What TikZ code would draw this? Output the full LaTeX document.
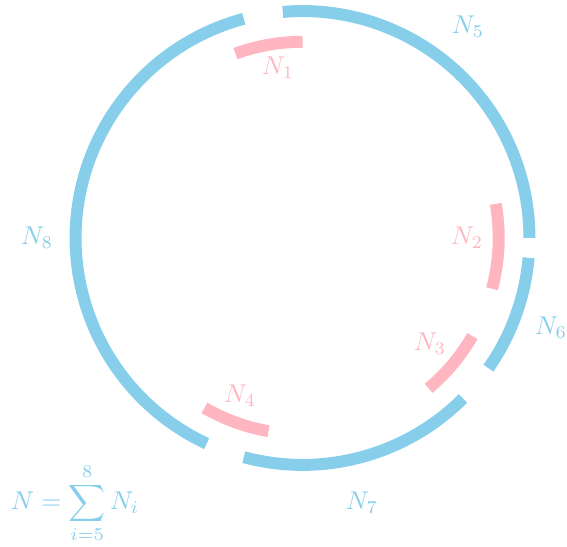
\documentclass[tikz,border=0pt]{standalone}
\usepackage{amsmath}
\usetikzlibrary{positioning}
\definecolor{ringBlue}{HTML}{87CEEB}
\definecolor{ringPink}{HTML}{FFB6C1}
\tikzset{
  arcB/.style={draw=ringBlue, line width=4.65pt},
  arcP/.style={draw=ringPink, line width=4.65pt},
  labB/.style={text=ringBlue, inner sep=1pt},
  labP/.style={text=ringPink, inner sep=1pt},
}

\begin{document}
\begin{tikzpicture}
  \useasboundingbox (-4.133,-4.208) rectangle (3.613,3.251);
  % outer ring
  \foreach \a/\b in {0/95, 105/245, 255/315, 325/355}
    \draw[arcB] (\a:3.1) arc[start angle=\a, end angle=\b, radius=3.1];
  % inner ring
  \foreach \a/\b in {90/110, -15/10, -50/-30, -120/-100}
    \draw[arcP] (\a:2.68) arc[start angle=\a, end angle=\b, radius=2.68];
  % labels
  \node[labB] (n5) at (2.261,2.883) {$N_5$};
  \node[labB] (n6) at (3.395,-1.230) {$N_6$};
  \node[labB] (n7) at (0.813,-3.620) {$N_7$};
  \node[labB] (n8) at (-3.627,0) {$N_8$};
  \node[labP] (n1) at (-0.335,2.322) {$N_1$};
  \node[labP] (n2) at (2.247,0) {$N_2$};
  \node[labP] (n3) at (1.742,-1.448) {$N_3$};
  \node[labP] (n4) at (-0.854,-2.158) {$N_4$};
  \node[labB] (sum) at (-3.108,-3.620) {$\displaystyle N=\sum_{i=5}^{8} N_i$};
\end{tikzpicture}
\end{document}
